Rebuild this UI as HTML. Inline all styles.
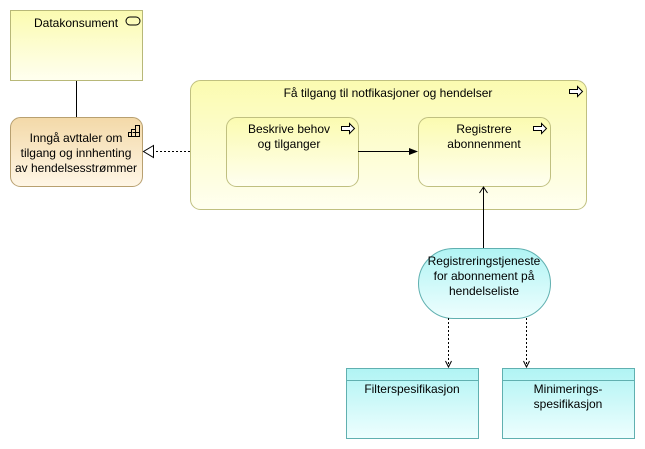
<!DOCTYPE html>
<html><head><meta charset="utf-8"><style>body{margin:0;background:#fff}svg{display:block}text{font-family:"Liberation Sans",sans-serif;font-size:12px;fill:#000}</style></head><body>
<svg width="645" height="449" viewBox="0 0 645 449" xmlns="http://www.w3.org/2000/svg">
<defs>
<linearGradient id="y" x1="0" y1="0" x2="0" y2="1"><stop offset="0" stop-color="#fbfbb0"/><stop offset="1" stop-color="#fffff0"/></linearGradient>
<linearGradient id="o" x1="0" y1="0" x2="0" y2="1"><stop offset="0" stop-color="#f3d9a8"/><stop offset="1" stop-color="#fff6e6"/></linearGradient>
<linearGradient id="c" x1="0" y1="0" x2="0" y2="1"><stop offset="0" stop-color="#b0f4f4"/><stop offset="1" stop-color="#eefefe"/></linearGradient>
</defs>
<rect x="10.5" y="10.5" width="132" height="70" fill="url(#y)" stroke="#b8b878"/>
<text x="34" y="27">Datakonsument</text>
<rect x="126" y="17" width="14" height="8" rx="4" fill="none" stroke="#000"/>
<line x1="76.5" y1="81" x2="76.5" y2="117" stroke="#000"/>
<rect x="10.5" y="117.5" width="132" height="69" rx="10" fill="url(#o)" stroke="#b8a070"/>
<g stroke="#000" fill="none" stroke-width="1"><path d="M128.5 136.5h11v-11h-4v4h-4v3h-3z M132.5 132.5h7 M135.5 129.5v7 M131.5 132.5v4"/></g>
<text x="76" y="142" text-anchor="middle">Inngå avttaler om</text>
<text x="76" y="157" text-anchor="middle">tilgang og innhenting</text>
<text x="76" y="172" text-anchor="middle">av hendelsesstrømmer</text>
<rect x="190.5" y="80.5" width="396" height="129" rx="10" fill="url(#y)" stroke="#c0c080"/>
<text x="388" y="97" text-anchor="middle">Få tilgang til notfikasjoner og hendelser</text>
<path d="M569.5 89.5h8v-3l5 5-5 5v-3h-8z" fill="#fff" stroke="#000"/>
<line x1="190" y1="151.5" x2="153" y2="151.5" stroke="#000" stroke-dasharray="2,2"/>
<path d="M153.5 145.5 L143.5 151.5 L153.5 157.5 Z" fill="#fff" stroke="#000"/>
<rect x="226.5" y="117.5" width="132" height="69" rx="10" fill="url(#y)" stroke="#c0c080"/>
<text x="289" y="133" text-anchor="middle">Beskrive behov</text>
<text x="289" y="148" text-anchor="middle">og tilganger</text>
<path d="M341.5 126.5h8v-3l5 5-5 5v-3h-8z" fill="#fff" stroke="#000"/>
<rect x="418.5" y="117.5" width="132" height="69" rx="10" fill="url(#y)" stroke="#c0c080"/>
<text x="484" y="133" text-anchor="middle">Registrere</text>
<text x="484" y="148" text-anchor="middle">abonnenment</text>
<path d="M533.5 126.5h8v-3l5 5-5 5v-3h-8z" fill="#fff" stroke="#000"/>
<line x1="358" y1="151.5" x2="410" y2="151.5" stroke="#000"/>
<path d="M418 151.5 L409 148 L409 155 Z" fill="#000"/>
<line x1="483.5" y1="248" x2="483.5" y2="187" stroke="#000"/>
<path d="M479.5 193 L483.5 187 L487.5 193" fill="none" stroke="#000"/>
<rect x="418.5" y="248.5" width="132" height="70" rx="35" fill="url(#c)" stroke="#60b0b0"/>
<text x="484" y="265" text-anchor="middle">Registreringstjeneste</text>
<text x="484" y="280" text-anchor="middle">for abonnement på</text>
<text x="484" y="295" text-anchor="middle">hendelseliste</text>
<line x1="448.5" y1="318" x2="448.5" y2="367" stroke="#000" stroke-dasharray="2,2"/>
<path d="M445.5 361 L448.5 367 L451.5 361" fill="none" stroke="#000"/>
<line x1="526.5" y1="318" x2="526.5" y2="367" stroke="#000" stroke-dasharray="2,2"/>
<path d="M523.5 361 L526.5 367 L529.5 361" fill="none" stroke="#000"/>
<rect x="346.5" y="368.5" width="132" height="70" fill="url(#c)" stroke="#60b0b0"/>
<line x1="346.5" y1="380.5" x2="478.5" y2="380.5" stroke="#60b0b0"/>
<text x="412" y="393" text-anchor="middle">Filterspesifikasjon</text>
<rect x="502.5" y="368.5" width="132" height="70" fill="url(#c)" stroke="#60b0b0"/>
<line x1="502.5" y1="380.5" x2="634.5" y2="380.5" stroke="#60b0b0"/>
<text x="568" y="393" text-anchor="middle">Minimerings-</text>
<text x="568" y="408" text-anchor="middle">spesifikasjon</text>
</svg>
</body></html>
